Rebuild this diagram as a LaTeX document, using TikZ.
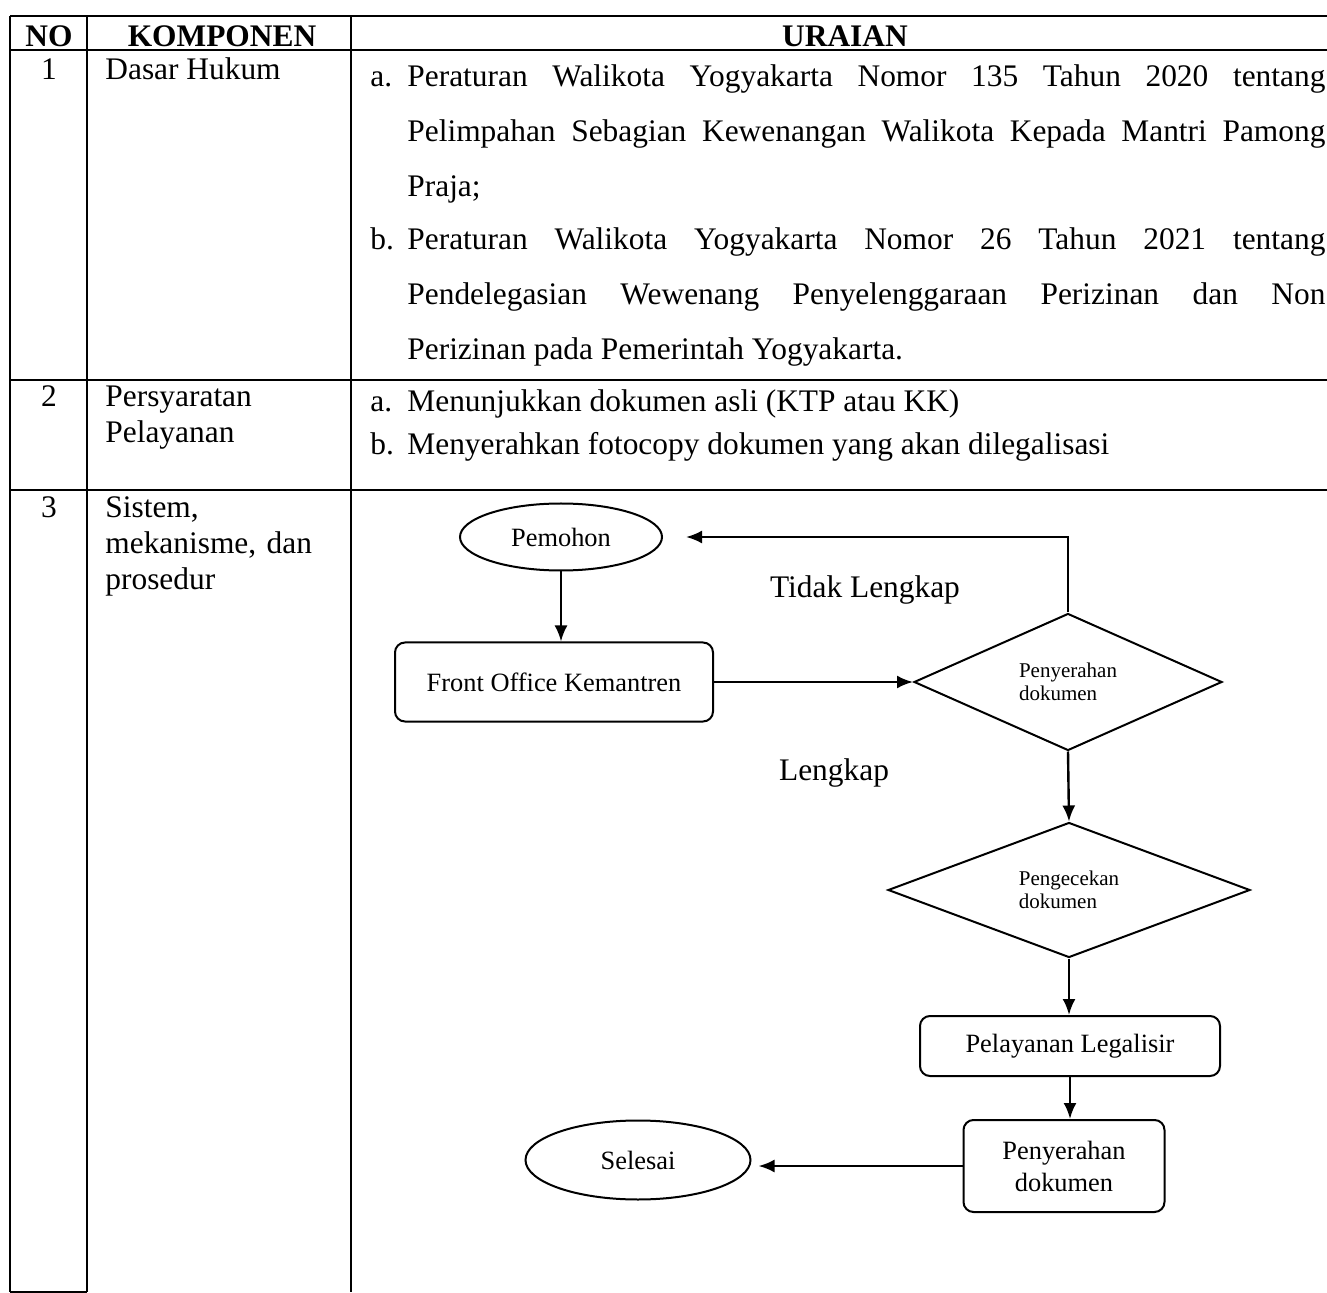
\documentclass[tikz,border=0pt]{standalone}
\usepackage{fontspec}
\setmainfont{Liberation Serif}
\usetikzlibrary{shapes.geometric,arrows.meta}
\tolerance=10000
\hbadness=10000

\begin{document}
\begin{tikzpicture}[x=0.5pt,y=-0.5pt]
\tikzstyle{grid}=[line width=1pt]
\tikzstyle{head}=[font=\fontsize{15.7}{18}\selectfont\bfseries, anchor=base, inner sep=0pt]
\tikzstyle{cell}=[font=\fontsize{15.7}{18}\selectfont, anchor=base west, inner sep=0pt, align=left]
\tikzstyle{para}=[font=\fontsize{15.7}{27.5}\selectfont, anchor=base west, inner sep=0pt, text width=459pt, align=justify]
\tikzstyle{term}=[ellipse, draw, line width=1pt, inner sep=0pt, font=\fontsize{13.2}{16}\selectfont]
\tikzstyle{proc}=[rectangle, rounded corners=5pt, draw, line width=1pt, inner sep=0pt, align=center, font=\fontsize{13.2}{16}\selectfont]
\tikzstyle{cond}=[diamond, draw, line width=1pt, inner sep=1pt, align=left, font=\fontsize{10.5}{11.5}\selectfont]
\tikzstyle{connect}=[-{Latex[length=8pt,width=6.5pt]}, line width=1.2pt]
\tikzstyle{lbl}=[font=\fontsize{15.7}{18}\selectfont, inner sep=0pt, anchor=base]
  \useasboundingbox (0,0) rectangle (1327,1293);

  \draw[grid] (10,16) -- (1327,16);
  \draw[grid] (10,50) -- (1327,50);
  \draw[grid] (10,380) -- (1327,380);
  \draw[grid] (10,490) -- (1327,490);
  \draw[grid] (10,1292) -- (87,1292);
  \draw[grid] (10,16) -- (10,1292);
  \draw[grid] (87,16) -- (87,1292);
  \draw[grid] (351,16) -- (351,1292);

  \node[head] (no) at (49,47) {NO};
  \node[head] (komponen) at (222,47) {KOMPONEN};
  \node[head] (uraian) at (845,47) {URAIAN};

  \node[cell, anchor=base] (no1) at (49,80) {1};
  \node[cell] (komp1) at (105,80) {Dasar Hukum};
  \node[cell] (a1) at (370,87) {a.};
  \node[para] (ur1a) at (407,87) {Peraturan Walikota Yogyakarta Nomor 135 Tahun 2020 tentang\linebreak Pelimpahan Sebagian Kewenangan Walikota Kepada Mantri Pamong\linebreak Praja;};
  \node[cell] (b1) at (370,250) {b.};
  \node[para] (ur1b) at (407,250) {Peraturan Walikota Yogyakarta Nomor 26 Tahun 2021 tentang\linebreak Pendelegasian Wewenang Penyelenggaraan Perizinan dan Non\linebreak Perizinan pada Pemerintah Yogyakarta.};

  \node[cell, anchor=base] (no2) at (49,407) {2};
  \node[cell, text width=120pt] (komp2) at (105,407) {Persyaratan\\Pelayanan};
  \node[cell] (a2) at (370,412) {a.};
  \node[cell] (ur2a) at (407,412) {Menunjukkan dokumen asli (KTP atau KK)};
  \node[cell] (b2) at (370,455) {b.};
  \node[cell] (ur2b) at (407,455) {Menyerahkan fotocopy dokumen yang akan dilegalisasi};

  \node[cell, anchor=base] (no3) at (49,518) {3};
  \node[cell, text width=120pt] (komp3) at (105,518) {Sistem,\\mekanisme, dan\\prosedur};

  \node[term, minimum width=101pt, minimum height=33.5pt] (pemohon) at (561,537) {Pemohon};
  \node[proc, minimum width=159pt, minimum height=39.5pt] (front) at (554,682) {Front Office Kemantren};
  \node[cond, aspect=2.25, minimum width=154pt, minimum height=68.5pt] (serah) at (1068,682) {Penyerahan\\dokumen};
  \node[cond, aspect=2.7, minimum width=181pt, minimum height=67.5pt] (cek) at (1069,890) {Pengecekan\\dokumen};
  \node[proc, minimum width=150pt, minimum height=30pt] (legal) at (1070,1046) {Pelayanan Legalisir};
  \node[proc, minimum width=100.5pt, minimum height=46pt] (dok) at (1064,1166) {Penyerahan\\dokumen};
  \node[term, minimum width=112.5pt, minimum height=39.5pt] (selesai) at (638,1160) {Selesai};
  \node[lbl] (tidak) at (865,598) {Tidak Lengkap};
  \node[lbl] (lengkap) at (834,780) {Lengkap};

  \path (pemohon) edge [connect] (pemohon |- front.north)
    (front.east) edge [connect] (serah.west)
    (serah.south) edge [connect] (cek.north)
    (cek.south) edge [connect] (cek.south |- legal.north)
    (legal) edge [connect] (legal |- dok.north)
    (dok.west) edge [connect, shorten >=3.5pt] (dok.west -| selesai.east);
  \draw[connect, shorten >=11.5pt] (serah.north) |- (pemohon.east);
\end{tikzpicture}
\end{document}
